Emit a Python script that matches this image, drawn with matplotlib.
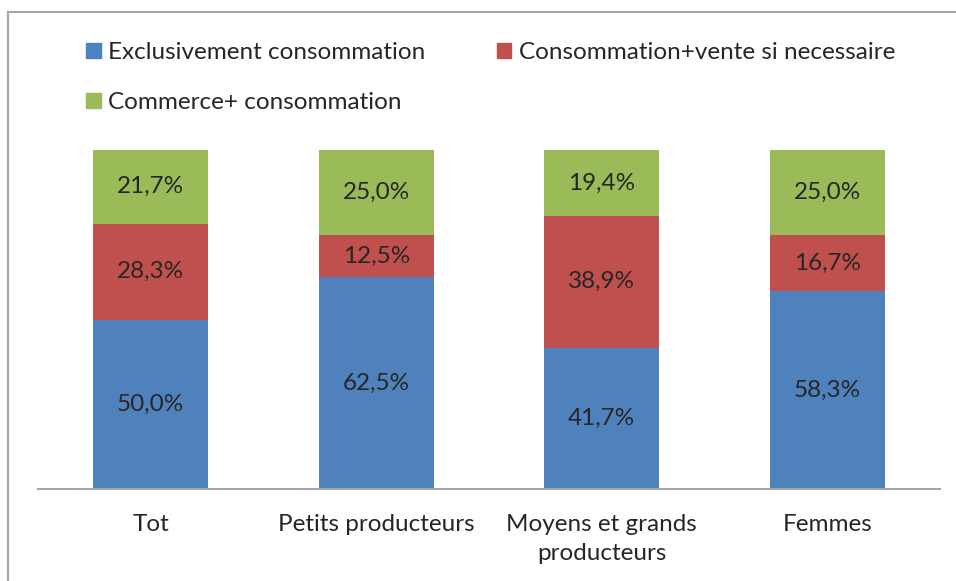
import matplotlib
matplotlib.use('Agg')
import matplotlib.pyplot as plt
from matplotlib.patches import Rectangle, Patch
import numpy as np

plt.rcParams['font.family'] = ['Lato', 'DejaVu Sans']

categories = ['Tot', 'Petits producteurs', 'Moyens et grands\nproducteurs', 'Femmes']
series_names = ['Exclusivement consommation', 'Consommation+vente si necessaire',
                'Commerce+ consommation']
excl = [50.0, 62.5, 41.7, 58.3]
vente = [28.3, 12.5, 38.9, 16.7]
commerce = [21.7, 25.0, 19.4, 25.0]
colors = ['#4F81BD', '#C0504D', '#9BBB59']

W, H = 956, 581
fs = 17.5
fig = plt.figure(figsize=(W / 100, H / 100), dpi=100)
ax = fig.add_axes([38 / W, 1 - 489 / H, (940 - 38) / W, (489 - 150) / H])

# outer frame (only left/top visible in the picture)
fig.patches.append(Rectangle((8 / W, -0.05), 1.2, 1 - 12 / H + 0.05,
                             transform=fig.transFigure, fill=False,
                             edgecolor='#a6a6a6', linewidth=1.5))

x = np.arange(len(categories))
bottom = np.zeros(len(categories))
for vals, col in zip([excl, vente, commerce], colors):
    vals = np.array(vals)
    ax.bar(x, vals, width=0.51, bottom=bottom, color=col)
    for xi, b, v in zip(x, bottom, vals):
        ax.text(xi, b + v / 2, f'{v:.1f}%'.replace('.', ','), ha='center',
                va='center', fontsize=fs, color='#262626')
    bottom += vals

ax.set_xlim(-0.5, len(categories) - 0.5)
ax.set_ylim(0, 100)
ax.set_yticks([])
for s in ['left', 'right', 'top']:
    ax.spines[s].set_visible(False)
ax.spines['bottom'].set_color('#a6a6a6')
ax.spines['bottom'].set_linewidth(1.5)
ax.set_xticks(x)
ax.set_xticklabels(categories, fontsize=fs, color='#262626', linespacing=1.45)
ax.tick_params(axis='x', length=0, pad=18)

handles = [Patch(color=c) for c in colors]
order = [0, 2, 1]
fig.legend([handles[i] for i in order], [series_names[i] for i in order],
           ncol=2, loc='upper left', bbox_to_anchor=(86 / W, 1 - 42 / H),
           frameon=False, fontsize=fs, handlelength=0.6, handleheight=0.6,
           handletextpad=0.3, labelspacing=1.2, columnspacing=2.95,
           borderpad=0, borderaxespad=0, labelcolor='#262626')

fig.savefig('out.png', dpi=100)
